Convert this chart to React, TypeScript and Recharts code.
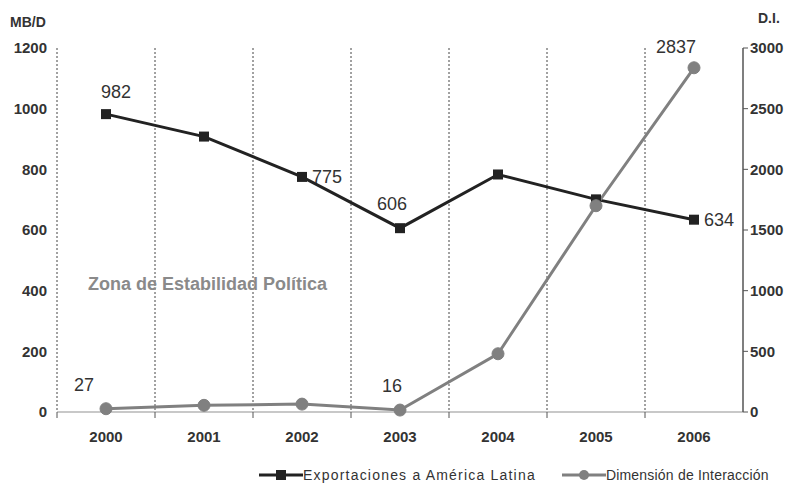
import {
  LineChart,
  Line,
  XAxis,
  YAxis,
  CartesianGrid,
  LabelList,
} from 'recharts';

const years = ['2000', '2001', '2002', '2003', '2004', '2005', '2006'];
const exportaciones = [982, 908, 775, 606, 783, 701, 634];
const interaccion = [27, 55, 65, 16, 480, 1700, 2837];
const leftTicks = [0, 200, 400, 600, 800, 1000, 1200];
const rightTicks = [0, 500, 1000, 1500, 2000, 2500, 3000];

const data = years.map((y, i) => ({
  year: y,
  exp: exportaciones[i],
  di: interaccion[i],
}));

const W = 793;
const H = 487;
const M = { top: 48, right: 0, bottom: 45, left: 0 };
const LEFT_W = 57;
const RIGHT_W = 50;
const PLOT_W = W - M.left - M.right - LEFT_W - RIGHT_W;
const BAND = PLOT_W / years.length;

const FONT = '"Liberation Sans", Arial, sans-serif';

// where the value labels sit relative to the point (index -> dx, dy, anchor)
const expLabelPos: Record<number, [number, number, string]> = {
  0: [10, -16, 'middle'],
  2: [10, 6, 'start'],
  3: [-8, -18, 'middle'],
  6: [10, 6, 'start'],
};
const diLabelPos: Record<number, [number, number, string]> = {
  0: [-22, -18, 'middle'],
  3: [-8, -18, 'middle'],
  6: [-18, -15, 'middle'],
};

function makeLabel(pos: Record<number, [number, number, string]>) {
  return (props: any) => {
    const { x, y, value, index } = props;
    const p = pos[index];
    if (!p) return null;
    return (
      <text
        x={x + p[0]}
        y={y + p[1]}
        textAnchor={p[2] as any}
        fontSize={18}
        fontFamily={FONT}
        fill="#333"
      >
        {value}
      </text>
    );
  };
}

function XTick(props: any) {
  const { x, y, payload } = props;
  const axisY = y - 8;
  return (
    <g>
      <line x1={x - BAND / 2} x2={x - BAND / 2} y1={axisY} y2={axisY + 6} stroke="#555" />
      <text
        x={x}
        y={y + 22}
        textAnchor="middle"
        fontSize={15}
        fontWeight="bold"
        fontFamily={FONT}
        fill="#333"
      >
        {payload.value}
      </text>
    </g>
  );
}

function LegendBox() {
  const item = (label: string, color: string, square: boolean, spacing: number) => (
    <div style={{ display: 'flex', alignItems: 'center', marginRight: 26, whiteSpace: 'nowrap' }}>
      <svg width={44} height={12}>
        <line x1={0} x2={44} y1={6} y2={6} stroke={color} strokeWidth={3} />
        {square ? (
          <rect x={17} y={1} width={10} height={10} fill={color} />
        ) : (
          <circle cx={22} cy={6} r={5} fill={color} />
        )}
      </svg>
      <span style={{ fontSize: 14, color: '#333', letterSpacing: spacing }}>{label}</span>
    </div>
  );
  return (
    <div
      style={{
        position: 'absolute',
        left: 259,
        top: 467,
        width: 534,
        display: 'flex',
        fontFamily: FONT,
      }}
    >
      {item('Exportaciones a América Latina', '#222', true, 1.2)}
      {item('Dimensión de Interacción', '#808080', false, 0.2)}
    </div>
  );
}

export default function App() {
  return (
    <div style={{ position: 'absolute', left: 0, top: 0, width: W, height: H, background: '#fff' }}>
      <LineChart width={W} height={H} data={data} margin={M}>
        <CartesianGrid
          horizontal={false}
          stroke="#444"
          strokeDasharray="2 2"
          verticalCoordinatesGenerator={({ offset }: any) =>
            years.map((_, i) => offset.left + (i * offset.width) / years.length)
          }
        />
        <XAxis
          dataKey="year"
          scale="band"
          tick={<XTick />}
          tickLine={false}
          axisLine={{ stroke: '#c8c8c8', strokeWidth: 2 }}
        />
        <YAxis
          yAxisId="left"
          width={LEFT_W}
          domain={[0, 1200]}
          ticks={leftTicks}
          axisLine={false}
          tickLine={false}
          tick={{ fontSize: 15, fontWeight: 'bold', fontFamily: FONT, fill: '#333' }}
          tickMargin={4}
        />
        <YAxis
          yAxisId="right"
          orientation="right"
          width={RIGHT_W}
          domain={[0, 3000]}
          ticks={rightTicks}
          axisLine={{ stroke: '#555', strokeWidth: 1.5 }}
          tickLine={{ stroke: '#555' }}
          tickSize={5}
          tick={{ fontSize: 15, fontWeight: 'bold', fontFamily: FONT, fill: '#333' }}
        />
        <Line
          yAxisId="left"
          dataKey="exp"
          stroke="#222"
          strokeWidth={3}
          isAnimationActive={false}
          dot={(p: any) => (
            <rect key={p.index} x={p.cx - 5} y={p.cy - 5} width={10} height={10} fill="#222" />
          )}
        >
          <LabelList dataKey="exp" content={makeLabel(expLabelPos)} />
        </Line>
        <Line
          yAxisId="right"
          dataKey="di"
          stroke="#808080"
          strokeWidth={3}
          isAnimationActive={false}
          dot={{ r: 6, fill: '#808080', stroke: '#808080', strokeWidth: 1 }}
        >
          <LabelList dataKey="di" content={makeLabel(diLabelPos)} />
        </Line>
      </LineChart>
      <LegendBox />
      <div style={{ position: 'absolute', left: 10, top: 14, fontFamily: FONT, fontWeight: 'bold', fontSize: 14, color: '#333' }}>
        MB/D
      </div>
      <div style={{ position: 'absolute', left: 758, top: 10, fontFamily: FONT, fontWeight: 'bold', fontSize: 14, color: '#333' }}>
        D.I.
      </div>
      <div style={{ position: 'absolute', left: 88, top: 274, fontFamily: FONT, fontWeight: 'bold', fontSize: 18, color: '#8a8a8a' }}>
        Zona de Estabilidad Política
      </div>
    </div>
  );
}
